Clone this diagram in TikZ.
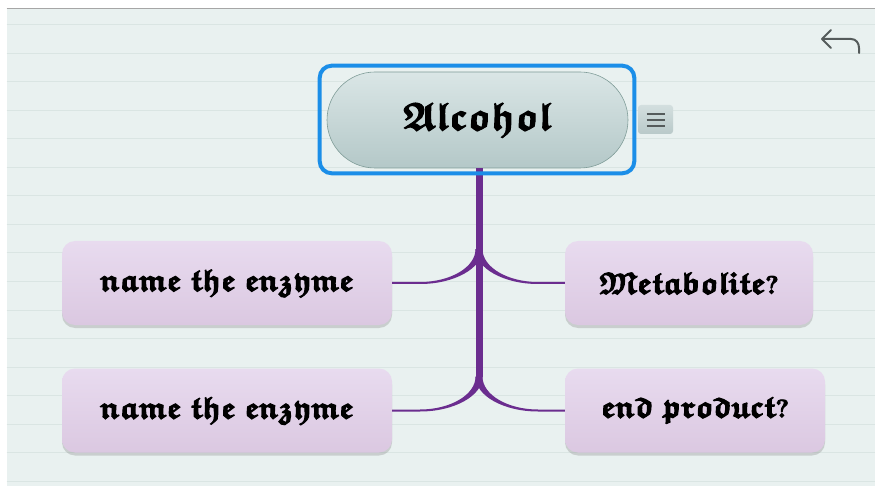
\documentclass[tikz,border=0pt]{standalone}
\usepackage{amsfonts}
\usetikzlibrary{shadows,calc}
\definecolor{bgc}{HTML}{E9F1F0}
\definecolor{rulec}{HTML}{DAE5E3}
\definecolor{selc}{HTML}{1B8EE8}
\definecolor{pilltop}{HTML}{DAE6E6}
\definecolor{pillbot}{HTML}{B4C8C8}
\definecolor{pilledge}{HTML}{7F9C98}
\definecolor{boxtop}{HTML}{E8DBEF}
\definecolor{boxbot}{HTML}{DBC8E1}
\definecolor{linkc}{HTML}{6B2D8F}
\definecolor{iconc}{HTML}{555B5B}
\definecolor{icontop}{HTML}{D3DFDF}
\definecolor{iconbot}{HTML}{B9C9C9}
\newcommand\fk[1]{{\mathversion{bold}\special{pdf:code 0 G 2 Tr 1.1 w}$\mathfrak{#1}$\special{pdf:code 0 Tr}}}
\newcommand\mmbranch[3]{%
  \fill[linkc] ($(#1)+({-3.5*#3},0)$) .. controls +(0,18) and +({30.5*#3},0) .. ($(#1)+({-59*#3},32.8)$)
    -- ($(#2)+(0,-1)$) -- ($(#2)+(0,1)$) -- ($(#1)+({-59*#3},34.8)$)
    .. controls +({34.4*#3},0) and +(0,19) .. ($(#1)+({3.5*#3},0)$) -- cycle;}
\begin{document}
\begin{tikzpicture}[x=1pt,y=-1pt,
  pill/.style={rectangle, rounded corners=48pt, top color=pilltop, bottom color=pillbot,
    draw=pilledge, line width=0.6pt, minimum width=301pt, minimum height=96pt,
    font=\fontsize{39}{41}\selectfont},
  leaf/.style={rectangle, rounded corners=13pt, top color=boxtop, bottom color=boxbot,
    minimum height=84pt, inner sep=0pt,
    drop shadow={shadow xshift=0pt, shadow yshift=-3pt, opacity=.3, fill=black!50},
    font=\fontsize{30.5}{32}\selectfont},
  menuicon/.style={rectangle, rounded corners=3pt, top color=icontop, bottom color=iconbot,
    minimum width=35pt, minimum height=29pt},
  trunk/.style={linkc, line width=7pt},
  icon/.style={iconc, line width=2pt, line cap=round, line join=round}]
\useasboundingbox (0,0) rectangle (875,486);
\fill[white] (0,0) rectangle (875,486);
\fill[bgc] (6.5,9) rectangle (875,486);
\draw[gray!70, line width=1pt] (6.5,8.5) -- (875,8.5);
\foreach \k in {0,...,16} \draw[rulec, line width=1pt] (6.5,{25+28.5*\k}) -- (875,{25+28.5*\k});
% nodes
\node[pill] (c) at (477.5,120) {\fk{Alcohol}};
\node[menuicon] (m) at (655.5,119.5) {};
\node[leaf, minimum width=330pt] (n1) at (227,283) {\fk{name\ the\ enzyme}};
\node[leaf, minimum width=330pt] (n2) at (227,410.5) {\fk{name\ the\ enzyme}};
\node[leaf, minimum width=248pt] (n3) at (689,283) {\fk{Metabolite?}};
\node[leaf, minimum width=260pt] (n4) at (695,410.5) {\fk{end\ product?}};
\coordinate (j1) at (479,249.2);
\coordinate (j2) at (479,376.7);
% connectors
\draw[trunk] (c.south -| j1) -- (j2);
\mmbranch{j1}{n1.east}{1}
\mmbranch{j1}{n3.west}{-1}
\mmbranch{j2}{n2.east}{1}
\mmbranch{j2}{n4.west}{-1}
% selection frame
\draw[selc, line width=4pt, rounded corners=12pt] ($(c.south west)+(-7,5)$) rectangle ($(c.north east)+(6,-6)$);
% menu icon lines
\draw[iconc, line width=1.6pt] ($(m.center)+(-9,-5.5)$) -- +(18,0);
\draw[iconc, line width=1.6pt] ($(m.center)+(-9,0.5)$) -- +(18,0);
\draw[iconc, line width=1.6pt] ($(m.center)+(-9,6.5)$) -- +(18,0);
% back arrow
\draw[icon] (822,39) -- (851,39) .. controls (856,39) and (859,43) .. (859,48) -- (859,53);
\draw[icon] (831,30) -- (822,39) -- (831,48);
\end{tikzpicture}
\end{document}
